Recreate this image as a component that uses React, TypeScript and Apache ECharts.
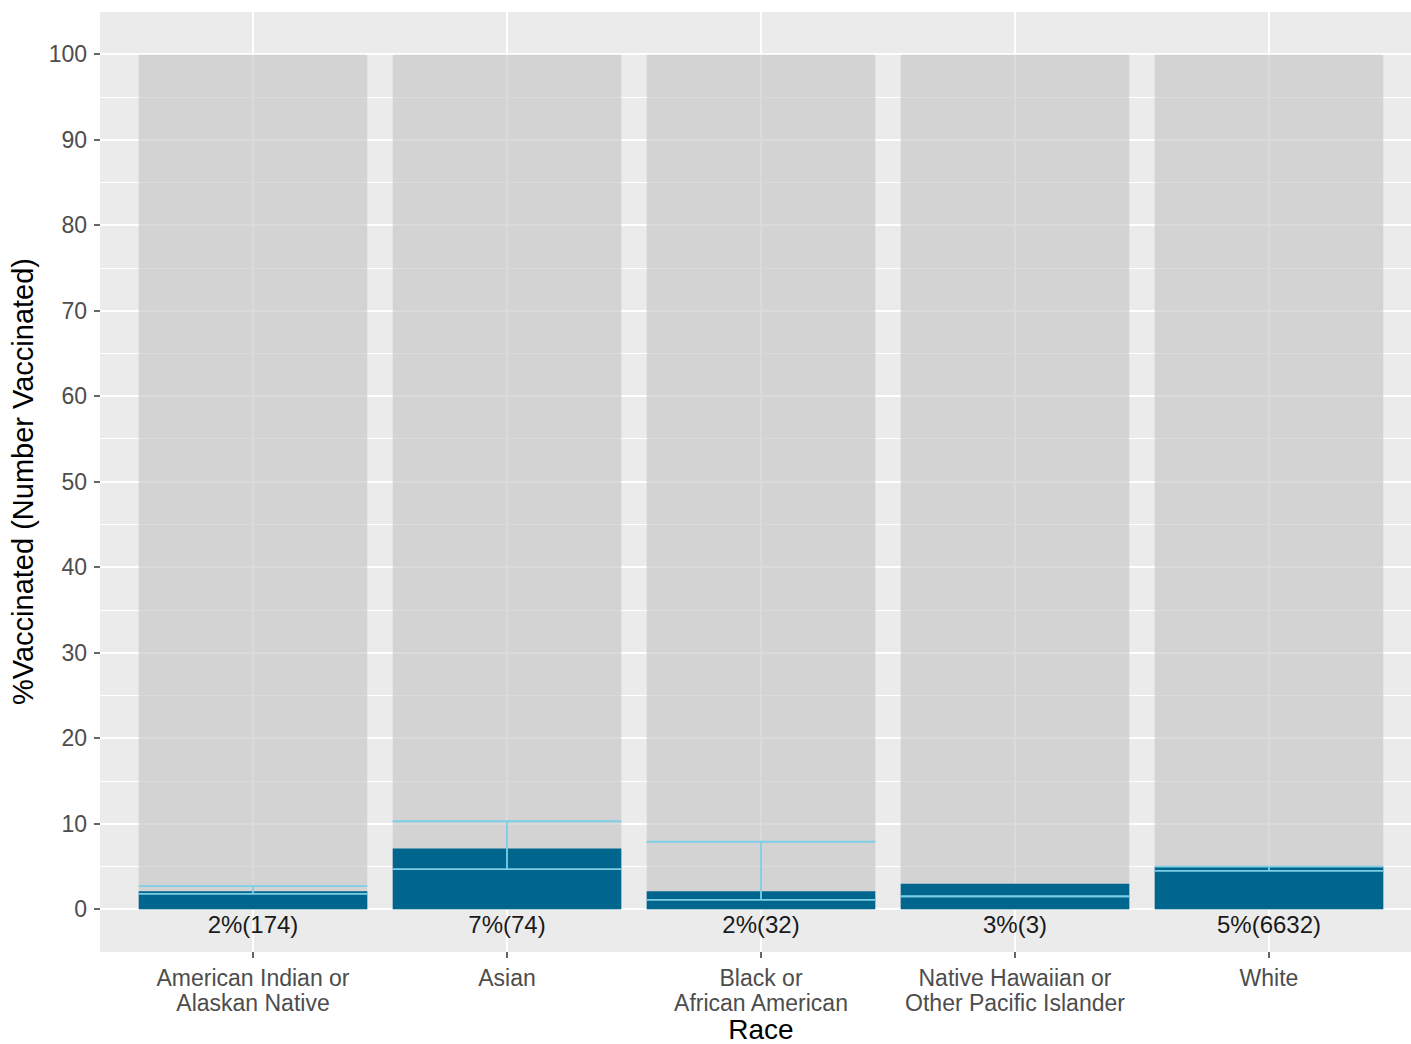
import React, { useEffect, useRef } from 'react';
import * as echarts from 'echarts';

const categories = [
  'American Indian or\nAlaskan Native',
  'Asian',
  'Black or\nAfrican American',
  'Native Hawaiian or\nOther Pacific Islander',
  'White',
];
const totalPct = [100, 100, 100, 100, 100];
const vaccinatedPct = [2.1, 7.1, 2.1, 3.0, 5.0];
const vaccinatedCount = [174, 74, 32, 3, 6632];
const ciLower = [1.8, 4.7, 1.1, 1.5, 4.5];
const ciUpper = [2.7, 10.3, 7.9, 1.5, 5.0];

const FONT = '"Liberation Sans", Arial, sans-serif';
const PANEL = '#EBEBEB';
const BAR_BG = 'rgba(198,198,198,0.65)';
const BAR_FG = '#00668E';
const ERR = '#7DCFE6';

export default function App() {
  const ref = useRef<HTMLDivElement>(null);
  useEffect(() => {
    if (!ref.current) return;
    const chart = echarts.init(ref.current, undefined, { renderer: 'svg' });
    const option: any = {
      animation: false,
      backgroundColor: '#ffffff',
      grid: [
        { left: 100, top: 12, width: 1321, height: 940, show: true, backgroundColor: PANEL, borderWidth: 0, outerBoundsMode: 'none', containLabel: false },
        { left: 100, top: 54, width: 1321, height: 855, show: false, outerBoundsMode: 'none', containLabel: false },
        { left: 126, top: 12, width: 1270, height: 940, show: false, outerBoundsMode: 'none', containLabel: false },
      ],
      xAxis: [
        { gridIndex: 0, type: 'value', show: false },
        { gridIndex: 1, type: 'category', data: categories, show: false },
        {
          gridIndex: 2,
          type: 'category',
          data: categories,
          boundaryGap: true,
          axisLine: { show: false, onZero: false },
          axisTick: { show: true, alignWithLabel: true, length: 6, lineStyle: { color: '#333333', width: 1.5 } },
          axisLabel: { color: '#4D4D4D', fontSize: 23, fontFamily: FONT, margin: 13, lineHeight: 25, interval: 0 },
          splitLine: { show: false },
          name: 'Race',
          nameLocation: 'middle',
          nameGap: 63,
          nameMoveOverlap: false,
          nameTextStyle: { color: '#000000', fontSize: 28, lineHeight: 28, fontFamily: FONT },
        },
      ],
      yAxis: [
        { gridIndex: 0, type: 'value', show: false },
        {
          gridIndex: 1,
          type: 'value',
          min: 0,
          max: 100,
          interval: 10,
          axisLine: { show: false },
          axisTick: { show: true, length: 6, lineStyle: { color: '#333333', width: 1.5 } },
          axisLabel: { color: '#4D4D4D', fontSize: 23, fontFamily: FONT, margin: 13 },
          splitLine: { show: true, lineStyle: { color: '#FFFFFF', width: 2 } },
          minorTick: { show: false, splitNumber: 2 },
          minorSplitLine: { show: true, lineStyle: { color: '#FFFFFF', width: 1 } },
          name: '%Vaccinated (Number Vaccinated)',
          nameLocation: 'middle',
          nameGap: 57,
          nameRotate: 90,
          nameTextStyle: { color: '#000000', fontSize: 29, fontFamily: FONT },
        },
        { gridIndex: 2, type: 'value', min: -5, max: 105, show: false },
      ],
      series: [
        {
          type: 'line',
          xAxisIndex: 2,
          yAxisIndex: 2,
          data: totalPct,
          showSymbol: false,
          lineStyle: { opacity: 0 },
          silent: true,
          z: 1,
          markLine: {
            z: 1,
            silent: true,
            symbol: ['none', 'none'],
            label: { show: false },
            lineStyle: { color: '#FFFFFF', width: 2, type: 'solid' },
            emphasis: { disabled: true },
            data: categories.map((c) => ({ xAxis: c })),
          },
        },
        {
          type: 'bar',
          xAxisIndex: 2,
          yAxisIndex: 2,
          data: totalPct,
          barCategoryGap: '10%',
          barGap: '-100%',
          itemStyle: { color: BAR_BG },
          silent: true,
          z: 2,
        },
        {
          type: 'bar',
          xAxisIndex: 2,
          yAxisIndex: 2,
          data: vaccinatedPct,
          barCategoryGap: '10%',
          barGap: '-100%',
          itemStyle: { color: BAR_FG },
          silent: true,
          z: 3,
          label: {
            show: true,
            position: 'bottom',
            distance: 3,
            color: '#1A1A1A',
            fontSize: 24,
            fontFamily: FONT,
            formatter: (p: any) => `${Math.round(vaccinatedPct[p.dataIndex])}%(${vaccinatedCount[p.dataIndex]})`,
          },
        },
        {
          type: 'custom',
          xAxisIndex: 2,
          yAxisIndex: 2,
          z: 4,
          silent: true,
          encode: { x: 0, y: [1, 2] },
          data: categories.map((_, i) => [i, ciLower[i], ciUpper[i]]),
          renderItem: (params: any, api: any) => {
            const x = api.value(0);
            const lo = api.coord([x, api.value(1)]);
            const hi = api.coord([x, api.value(2)]);
            const w = api.size([1, 0])[0] * 0.9;
            const style = { stroke: ERR, lineWidth: 1.8, fill: 'none' };
            return {
              type: 'group',
              children: [
                { type: 'line', shape: { x1: lo[0] - w / 2, y1: lo[1], x2: lo[0] + w / 2, y2: lo[1] }, style },
                { type: 'line', shape: { x1: hi[0] - w / 2, y1: hi[1], x2: hi[0] + w / 2, y2: hi[1] }, style },
                { type: 'line', shape: { x1: lo[0], y1: lo[1], x2: hi[0], y2: hi[1] }, style },
              ],
            };
          },
        },
      ],
    };
    chart.setOption(option);
    return () => chart.dispose();
  }, []);
  return (
    <div style={{ position: 'fixed', left: 0, top: 0, width: 1411, height: 1044, overflow: 'hidden', background: '#fff' }}>
      <div ref={ref} style={{ width: 1421, height: 1044 }} />
    </div>
  );
}
